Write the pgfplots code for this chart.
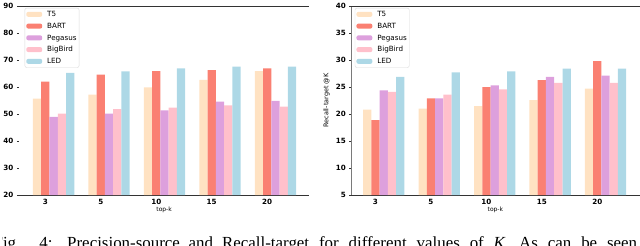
\documentclass[border=0pt]{standalone}
\usepackage{pgfplots}
\pgfplotsset{compat=1.18}
\usepackage{fontspec}
\setmainfont{Liberation Serif}
\newfontfamily\dv{DejaVu Sans}
\definecolor{cT5}{HTML}{FFE2C2}
\definecolor{cBART}{HTML}{FA8072}
\definecolor{cPeg}{HTML}{DDA0DD}
\definecolor{cBB}{HTML}{FFC0CB}
\definecolor{cLED}{HTML}{ADD8E6}
\definecolor{spine}{HTML}{333333}
\pgfplotsset{
  mybars/.style={
    ybar=0pt, bar width=8.3pt, scale only axis, height=190pt,
    anchor=south west,
    xtick={0,1,2,3,4}, xticklabels={3,5,10,15,20},
    separate axis lines,
    x axis line style={draw=spine, line width=0.8pt},
    y axis line style={draw=none},
    xtick style={draw=none},
    ytick style={draw=spine, line width=0.5pt},
    tick align=outside, major tick length=2pt, ytick pos=left,
    /pgf/number format/assume math mode=true,
    tick label style={font=\dv\bfseries\fontsize{7.2}{8}\selectfont},
    xticklabel style={yshift=1.5pt},
    xlabel style={font=\dv\fontsize{6}{7}\selectfont, at={(axis description cs:0.5,0)}, anchor=center, yshift=-15pt},
    ylabel style={font=\dv\fontsize{6.5}{7}\selectfont},
    legend cell align=left,
    legend image code/.code={\fill[##1] (0pt,-2.5pt) rectangle (16pt,2.5pt);},
    legend style={anchor=north west, draw=black!15, rounded corners=2pt,
      font=\dv\fontsize{7.2}{8}\selectfont, inner sep=1.5pt, row sep=2.3pt,
      nodes={inner sep=1pt, text height=6pt, text depth=1.5pt},
      /tikz/every odd column/.append style={column sep=4pt}},
  },
  sT5/.style={fill=cT5, draw=none, bar shift=-8.3pt},
  sBART/.style={fill=cBART, draw=none, bar shift=0pt},
  sPeg/.style={fill=cPeg, draw=none, bar shift=8.3pt},
  sBB/.style={fill=cBB, draw=none, bar shift=16.6pt},
  sLED/.style={fill=cLED, draw=none, bar shift=24.9pt},
}
\begin{document}
\begin{tikzpicture}
\begin{scope}
\clip (0pt,0pt) rectangle (640pt,244pt);
\node[anchor=base west, inner sep=0, font=\fontsize{17}{20}\selectfont] at (-9.5pt,-2.3pt)
  {\makebox[220.5pt][s]{Fig. 4: Precision-source and}};
\node[anchor=base west, inner sep=0, font=\fontsize{17}{20}\selectfont] at (220pt,-2.3pt)
  {\makebox[417pt][s]{Recall-target for different values of \textit{K}. As can be seen}};
\end{scope}
\begin{axis}[mybars, at={(16pt,51pt)}, width=292pt,
  xmin=-0.479, xmax=4.763, ymin=20, ymax=90, ytick={20,30,...,90},
  xlabel={top-k},
  legend style={at={(rel axis cs:0.02,0.99)}}]
\addplot[sT5] coordinates {(0,55.7) (1,57.2) (2,59.9) (3,62.7) (4,65.9)};
\addplot[sBART] coordinates {(0,62.0) (1,64.6) (2,65.9) (3,66.3) (4,66.9)};
\addplot[sPeg] coordinates {(0,49.0) (1,50.2) (2,51.4) (3,54.6) (4,54.9)};
\addplot[sBB] coordinates {(0,50.2) (1,51.8) (2,52.4) (3,53.2) (4,52.8)};
\addplot[sLED] coordinates {(0,65.3) (1,65.8) (2,66.9) (3,67.6) (4,67.6)};
\legend{T5,BART,Pegasus,BigBird,LED}
\end{axis}
\begin{axis}[mybars, at={(350pt,51pt)}, width=289.5pt,
  xmin=-0.436, xmax=4.761, ymin=5, ymax=40, ytick={5,10,...,40},
  xlabel={top-k}, ylabel={Recall-target @K},
  ylabel style={at={(axis description cs:-0.086,0.5)}, anchor=center},
  legend style={at={(rel axis cs:0.012,0.99)}}]
\addplot[sT5] coordinates {(0,20.85) (1,21.0) (2,21.5) (3,22.6) (4,24.7)};
\addplot[sBART] coordinates {(0,18.9) (1,22.9) (2,25.0) (3,26.3) (4,29.8)};
\addplot[sPeg] coordinates {(0,24.4) (1,22.9) (2,25.3) (3,26.9) (4,27.1)};
\addplot[sBB] coordinates {(0,24.1) (1,23.6) (2,24.6) (3,25.8) (4,25.8)};
\addplot[sLED] coordinates {(0,26.9) (1,27.7) (2,27.9) (3,28.4) (4,28.4)};
\legend{T5,BART,Pegasus,BigBird,LED}
\draw[spine, line width=0.8pt] (rel axis cs:0,0) -- (rel axis cs:0,1);
\end{axis}
\end{tikzpicture}
\end{document}
